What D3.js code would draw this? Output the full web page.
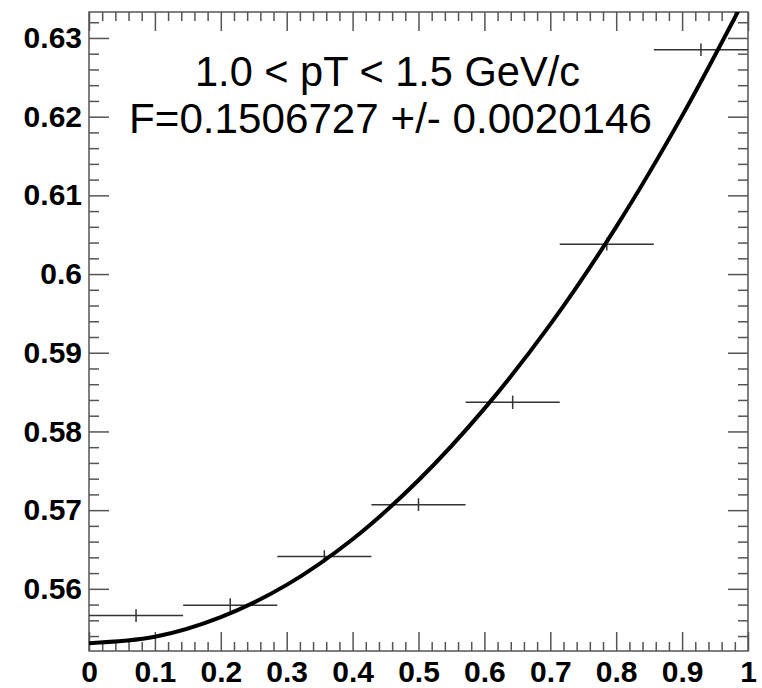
<!DOCTYPE html>
<html>
<head>
<meta charset="utf-8">
<script src="https://cdn.jsdelivr.net/npm/d3@7"></script>
<style>
  body { margin: 0; background: #fff; }
  svg { display: block; }
</style>
</head>
<body>
<div id="chart"></div>
<script>
// bin centres, half widths, values and errors
const binX = [0.0714, 0.2143, 0.3571, 0.5, 0.6429, 0.7857, 0.9286]
const binHalfWidth = [0.0714, 0.0714, 0.0714, 0.0714, 0.0714, 0.0714, 0.0714]
const binY = [0.5566, 0.5579, 0.5641, 0.5707, 0.5837, 0.6038, 0.6285]
const binErr = [0.0008, 0.0009, 0.0008, 0.0008, 0.00085, 0.0008, 0.0008]

// fit curve
const fitX = [0, 0.1, 0.2, 0.3, 0.4, 0.5, 0.6, 0.7, 0.8, 0.9, 1.0]
const fitY = [0.5531, 0.5539, 0.5564, 0.5605, 0.5663, 0.5738, 0.5829, 0.5936, 0.6060, 0.6201, 0.6358]

const xMajor = [0, 0.1, 0.2, 0.3, 0.4, 0.5, 0.6, 0.7, 0.8, 0.9, 1]
const yMajor = [0.56, 0.57, 0.58, 0.59, 0.6, 0.61, 0.62, 0.63]
const xLabels = ["0", "0.1", "0.2", "0.3", "0.4", "0.5", "0.6", "0.7", "0.8", "0.9", "1"]
const yLabels = ["0.56", "0.57", "0.58", "0.59", "0.6", "0.61", "0.62", "0.63"]

const textLine1 = "1.0 < pT < 1.5 GeV/c"
const textLine2 = "F=0.1506727 +/- 0.0020146"

const width = 762
const height = 688
const frame = {left: 89, right: 748, top: 12, bottom: 651}

const svg = d3.select("#chart")
    .append("svg")
    .attr("width", width)
    .attr("height", height)

const x = d3.scaleLinear()
    .domain([0, 1])
    .range([frame.left, frame.right])

const y = d3.scaleLinear()
    .domain([0.5521, 0.6333])
    .range([frame.bottom, frame.top])

const xMinor = d3.range(0, 51).map(i => i * 0.02).filter(v => Math.abs(v * 10 - Math.round(v * 10)) > 1e-6)
const yMinor = d3.range(0, 60).map(i => 0.552 + i * 0.002)
    .filter(v => v >= 0.5521 && v <= 0.6333)
    .filter(v => Math.abs(v * 100 - Math.round(v * 100)) > 1e-6)

const axisColor = "#555"
const tickFont = "'Liberation Sans', Arial, Helvetica, sans-serif"

function styleAxis(g){
    g.select(".domain").remove()
    g.selectAll("line").attr("stroke", axisColor).attr("stroke-width", 1.5)
    g.selectAll("text")
        .attr("fill", "#000")
        .style("font-family", tickFont)
        .style("font-weight", "bold")
        .style("font-size", "30px")
}

const layer_axes = svg.append("g")
const layer_data = svg.append("g")
const layer_fit = svg.append("g")
const layer_text = svg.append("g")

// bottom axis
layer_axes.append("g")
    .attr("transform", `translate(0,${frame.bottom})`)
    .call(d3.axisBottom(x).tickValues(xMajor).tickSize(-19).tickPadding(10)
        .tickFormat((d, i) => xLabels[i]))
    .call(styleAxis)
    .selectAll("text").attr("dy", "0").attr("y", 31)
layer_axes.append("g")
    .attr("transform", `translate(0,${frame.bottom})`)
    .call(d3.axisBottom(x).tickValues(xMinor).tickSize(-9).tickFormat(""))
    .call(styleAxis)
// top axis
layer_axes.append("g")
    .attr("transform", `translate(0,${frame.top})`)
    .call(d3.axisTop(x).tickValues(xMajor).tickSize(-19).tickFormat(""))
    .call(styleAxis)
layer_axes.append("g")
    .attr("transform", `translate(0,${frame.top})`)
    .call(d3.axisTop(x).tickValues(xMinor).tickSize(-9).tickFormat(""))
    .call(styleAxis)
// left axis
layer_axes.append("g")
    .attr("transform", `translate(${frame.left},0)`)
    .call(d3.axisLeft(y).tickValues(yMajor).tickSize(-20).tickPadding(7)
        .tickFormat((d, i) => yLabels[i]))
    .call(styleAxis)
layer_axes.append("g")
    .attr("transform", `translate(${frame.left},0)`)
    .call(d3.axisLeft(y).tickValues(yMinor).tickSize(-10).tickFormat(""))
    .call(styleAxis)
// right axis
layer_axes.append("g")
    .attr("transform", `translate(${frame.right},0)`)
    .call(d3.axisRight(y).tickValues(yMajor).tickSize(-20).tickFormat(""))
    .call(styleAxis)
layer_axes.append("g")
    .attr("transform", `translate(${frame.right},0)`)
    .call(d3.axisRight(y).tickValues(yMinor).tickSize(-10).tickFormat(""))
    .call(styleAxis)

// frame
layer_axes.append("rect")
    .attr("x", frame.left)
    .attr("y", frame.top)
    .attr("width", frame.right - frame.left)
    .attr("height", frame.bottom - frame.top)
    .attr("fill", "none")
    .attr("stroke", axisColor)
    .attr("stroke-width", 1.5)

svg.append("clipPath").attr("id", "clip")
    .append("rect")
    .attr("x", frame.left)
    .attr("y", frame.top)
    .attr("width", frame.right - frame.left)
    .attr("height", frame.bottom - frame.top)

// data points with error bars
const points = binX.map((d, i) => ({x: d, hw: binHalfWidth[i], y: binY[i], e: binErr[i]}))
const pg = layer_data.selectAll("g").data(points).enter().append("g")
pg.append("line")
    .attr("x1", d => x(d.x - d.hw))
    .attr("x2", d => Math.min(x(d.x + d.hw), frame.right))
    .attr("y1", d => y(d.y))
    .attr("y2", d => y(d.y))
    .attr("stroke", "#333")
    .attr("stroke-width", 1.5)
pg.append("line")
    .attr("x1", d => x(d.x))
    .attr("x2", d => x(d.x))
    .attr("y1", d => y(d.y - d.e))
    .attr("y2", d => y(d.y + d.e))
    .attr("stroke", "#333")
    .attr("stroke-width", 1.5)

// fit curve
const line = d3.line()
    .x(d => x(d[0]))
    .y(d => y(d[1]))
    .curve(d3.curveCatmullRom)
layer_fit.append("path")
    .datum(fitX.map((d, i) => [d, fitY[i]]))
    .attr("d", line)
    .attr("clip-path", "url(#clip)")
    .attr("fill", "none")
    .attr("stroke", "#000")
    .attr("stroke-width", 4)

// annotation
const textFont = "'Liberation Sans', Arial, sans-serif"
layer_text.append("text")
    .attr("x", 195)
    .attr("y", 85.5)
    .attr("textLength", 385)
    .attr("lengthAdjust", "spacingAndGlyphs")
    .style("font-family", textFont)
    .style("font-size", "42px")
    .text(textLine1)
layer_text.append("text")
    .attr("x", 129)
    .attr("y", 133)
    .attr("textLength", 523)
    .attr("lengthAdjust", "spacingAndGlyphs")
    .style("font-family", textFont)
    .style("font-size", "42px")
    .text(textLine2)
</script>
</body>
</html>
